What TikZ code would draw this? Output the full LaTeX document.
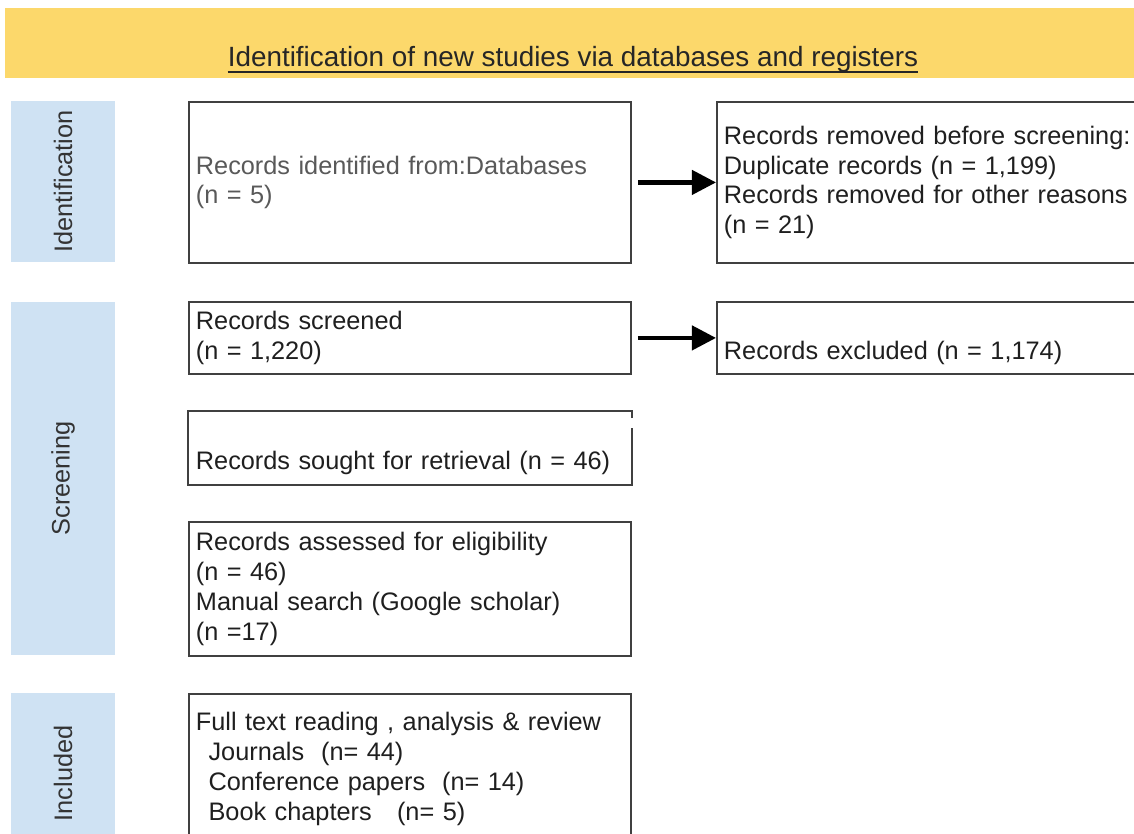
\documentclass[tikz,border=0pt]{standalone}
\usepackage{fontspec}
\setmainfont{Liberation Sans}
\usepackage{xcolor}
\usepackage{tikz}
\usetikzlibrary{arrows.meta}
\definecolor{bannerYellow}{HTML}{FCD86B}
\definecolor{phaseBlue}{HTML}{CFE2F3}

\begin{document}
\begin{tikzpicture}[x=0.025cm, y=-0.025cm, every node/.style={inner sep=0pt, font=\fontsize{18}{21.3}\selectfont, text=black!88},
  box/.style={draw=black!75, line width=1.3pt, align=left, anchor=north west, minimum width=11.05cm, text width=10.7cm, inner xsep=0.175cm},
  wide/.style={minimum width=11.5cm, text width=11.15cm},
  boxline/.style={draw=black!75, line width=1.3pt},
  phase/.style={fill=phaseBlue, rotate=90, minimum height=2.6cm, text=black!80},
  arr/.style={line width=3pt, -{Triangle[length=0.6cm,width=0.6cm]}}]
  \useasboundingbox (0,0) rectangle (1134,834);
  \clip (0,0) rectangle (1134,834);

  % banner
  \fill[bannerYellow] (5,8) rectangle (1134,78);
  \node[font=\fontsize{19.8}{24}\selectfont, text=black!85] (title) at (573,59) {Identification of new studies via databases and registers};
  \draw[line width=1.1pt, black!85] ([yshift=-4pt]title.base west) -- ([yshift=-4pt]title.base east);

  % phases
  \node[phase, minimum width=4.025cm] (idf) at (63,181.5) {Identification};
  \node[phase, minimum width=8.825cm] (scr) at (63,478.5) {Screening};
  \node[phase, minimum width=4.025cm] (inc) at (63,773.5) {Included};

  % boxes
  \node[box, minimum height=4.025cm, text=black!65] (a) at (188,101) {Records identified from:Databases\\(n = 5)};
  \node[box, wide, minimum height=4.025cm] (b) at (716,101) {Records removed before screening:\\Duplicate records (n = 1,199)\\Records removed for other reasons\\(n = 21)};
  \node[box, minimum height=1.8cm] (c) at (188,301) {Records screened\\(n = 1,220)};
  \node[box, wide, minimum height=1.8cm] (d) at (716,301) {\vphantom{(}\\Records excluded (n = 1,174)};
  \node[box, draw=none, minimum height=1.8cm] (e) at (188,411) {\vphantom{(}\\Records sought for retrieval (n = 46)};
  \draw[boxline] ([yshift=-0.175cm]e.north east) -- (e.north east) -- (e.north west) -- (e.south west) -- (e.south east) -- ([yshift=-0.425cm]e.north east);
  \node[box, minimum height=3.35cm] (f) at (188,521) {Records assessed for eligibility\\(n = 46)\\Manual search (Google scholar)\\(n =17)};
  \node[box, minimum height=3.75cm] (g) at (188,693) {Full text reading , analysis \& review\\\hspace*{0.5em}Journals\ \ (n= 44)\\\hspace*{0.5em}Conference papers\ \ (n= 14)\\\hspace*{0.5em}Book chapters\ \ \ (n= 5)};

  % arrows
  \draw[arr] ([xshift=0.15cm]a.east) -- (b.west);
  \draw[arr] ([xshift=0.15cm]c.east) -- (d.west);
\end{tikzpicture}
\end{document}
